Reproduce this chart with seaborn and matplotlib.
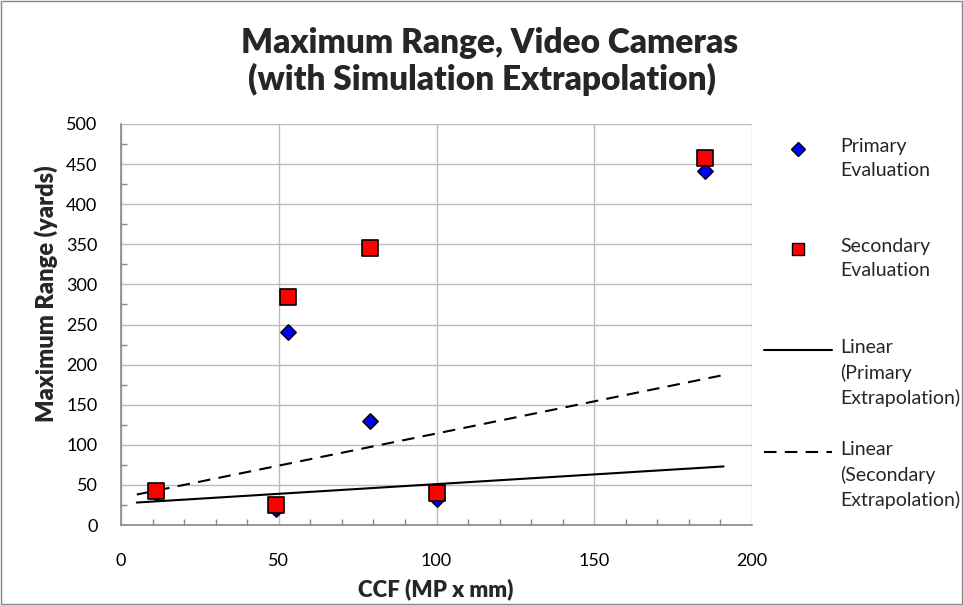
import numpy as np
import pandas as pd
import seaborn as sns
import matplotlib.pyplot as plt
from matplotlib.lines import Line2D
from matplotlib.patches import Rectangle
from matplotlib.ticker import MultipleLocator

# primary evaluation (blue diamonds)
primary_ccf = [11, 49, 53, 79, 100, 185]
primary_range = [40, 20, 241, 130, 33, 441]

# secondary evaluation (red squares)
secondary_ccf = [11, 49, 53, 79, 100, 185]
secondary_range = [42, 25, 284, 345, 40, 457]

# linear extrapolation lines (start / end)
trend_ccf = [5, 191]
primary_trend = [28, 73]
secondary_trend = [38, 187]

labels = ["Primary\nEvaluation", "Secondary\nEvaluation",
          "Linear\n(Primary\nExtrapolation)", "Linear\n(Secondary\nExtrapolation)"]

sns.set_theme(style="white")
plt.rcParams['font.family'] = ['Lato', 'DejaVu Sans']

W, H = 963, 605
fig = plt.figure(figsize=(W / 100, H / 100), dpi=100)
ax = fig.add_axes([121 / W, 1 - 525 / H, (752 - 121) / W, (525 - 124) / H])

sns.lineplot(x=trend_ccf, y=primary_trend, color='black', lw=1.5, ax=ax)
sns.lineplot(x=trend_ccf, y=secondary_trend, color='black', lw=1.5, ax=ax,
             linestyle=(0, (6, 4)))
sns.scatterplot(x=primary_ccf, y=primary_range, marker='D', s=60, color='#0000FF',
                edgecolor='black', linewidth=1.2, ax=ax, zorder=3)
sns.scatterplot(x=secondary_ccf, y=secondary_range, marker='s', s=120, color='#FF0000',
                edgecolor='black', linewidth=1.2, ax=ax, zorder=4)

ax.set_xlim(0, 200)
ax.set_ylim(0, 500)
ax.xaxis.set_major_locator(MultipleLocator(50))
ax.xaxis.set_minor_locator(MultipleLocator(10))
ax.yaxis.set_major_locator(MultipleLocator(50))
ax.yaxis.set_minor_locator(MultipleLocator(25))
ax.grid(True, which='major', color='#BBBBBB', lw=1)
ax.tick_params(which='minor', direction='in', length=4, color='#888888', bottom=True, left=True)
ax.tick_params(which='major', direction='in', length=0, labelsize=13, colors='black')
ax.tick_params(axis='y', pad=17)
ax.tick_params(axis='x', pad=20)
for side in ['top', 'right']:
    ax.spines[side].set_visible(False)
for side in ['left', 'bottom']:
    ax.spines[side].set_color('#888888')
    ax.spines[side].set_linewidth(1.2)

fig.text(436 / W, 1 - 589 / H, 'CCF (MP x mm)', ha='center', va='center',
         fontsize=16, fontweight='heavy')
fig.text(46 / W, 1 - 294 / H, 'Maximum Range (yards)', ha='center', va='center',
         rotation=90, fontsize=17, fontweight='heavy')
fig.text(490 / W, 1 - 53 / H, 'Maximum Range, Video Cameras', ha='center', va='baseline',
         fontsize=24, fontweight='heavy')
fig.text(482 / W, 1 - 90 / H, '(with Simulation Extrapolation)', ha='center', va='baseline',
         fontsize=24, fontweight='heavy')

# legend, drawn by hand like the Excel one (marker level with the first text line)
handles = [
    dict(marker='D', color='none', markerfacecolor='#0000FF', markeredgecolor='black',
         markersize=7),
    dict(marker='s', color='none', markerfacecolor='#FF0000', markeredgecolor='black',
         markersize=9),
    dict(color='black', lw=1.5),
    dict(color='black', lw=1.5, linestyle=(0, (6, 4))),
]
rows = [149, 249, 350, 452]
for style, label, yy in zip(handles, labels, rows):
    yf = 1 - yy / H
    if style.get('marker'):
        fig.add_artist(Line2D([798 / W], [yf], transform=fig.transFigure, **style))
    else:
        fig.add_artist(Line2D([764 / W, 832 / W], [yf, yf], transform=fig.transFigure, **style))
    fig.text(840 / W, yf + 11 / H, label, ha='left', va='top', fontsize=14,
             linespacing=1.5)

fig.add_artist(Rectangle((0.001, 0.001), 0.998, 0.998, transform=fig.transFigure,
                         fill=False, edgecolor='#888888', lw=1))

fig.savefig('out.png', dpi=100)
